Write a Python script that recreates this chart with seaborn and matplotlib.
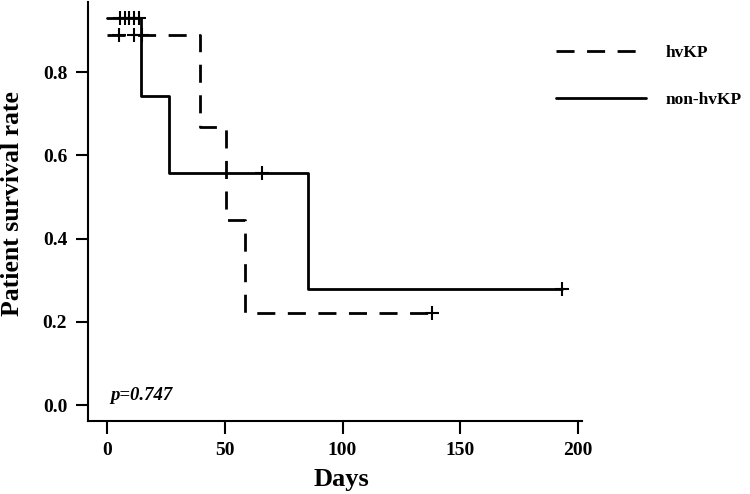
import matplotlib
matplotlib.use("Agg")
import matplotlib.pyplot as plt
import seaborn as sns
import pandas as pd

# Kaplan-Meier step data
hv_times = [0, 39.3, 50.5, 58.5, 138]
hv_surv = [0.889, 0.667, 0.444, 0.222, 0.222]
hv_cens_t = [5, 11.4, 14.8, 138]
hv_cens_s = [0.889, 0.889, 0.889, 0.222]

nhv_times = [0, 14.4, 26.5, 85.3, 193]
nhv_surv = [0.929, 0.743, 0.557, 0.279, 0.279]
nhv_cens_t = [5.5, 7.6, 9.3, 11.4, 13.6, 66, 193]
nhv_cens_s = [0.929, 0.929, 0.929, 0.929, 0.929, 0.557, 0.279]

x_ticks = [0, 50, 100, 150, 200]
y_ticks = [0.0, 0.2, 0.4, 0.6, 0.8]
p_text = "p=0.747"

sns.set_theme(style="ticks")
plt.rcParams['font.family'] = ['Liberation Serif', 'DejaVu Serif']
plt.rcParams['font.weight'] = 'bold'
plt.rcParams['text.color'] = 'black'
plt.rcParams['axes.labelcolor'] = 'black'
plt.rcParams['xtick.color'] = 'black'
plt.rcParams['ytick.color'] = 'black'
plt.rcParams['axes.edgecolor'] = 'black'

fig = plt.figure(figsize=(7.5, 4.94), dpi=100)
ax = fig.add_axes([0.1173, 0.1478, 0.6587, 0.848])

hv_df = pd.DataFrame({"t": hv_times, "s": hv_surv})
nhv_df = pd.DataFrame({"t": nhv_times, "s": nhv_surv})

sns.lineplot(data=hv_df, x="t", y="s", ax=ax, drawstyle="steps-post",
             color="black", lw=2.0, linestyle=(0, (6.5, 4.5)), label="hvKP")
sns.lineplot(data=nhv_df, x="t", y="s", ax=ax, drawstyle="steps-post",
             color="black", lw=2.0, label="non-hvKP")

ax.plot(hv_cens_t, hv_cens_s, ls="none", marker="+", ms=10, mew=1.5, color="black")
ax.plot(nhv_cens_t, nhv_cens_s, ls="none", marker="+", ms=10, mew=1.5, color="black")

ax.set_xlim(-8.1, 201.7)
ax.set_ylim(-0.038, 0.968)
ax.set_xticks(x_ticks)
ax.set_yticks(y_ticks)
ax.set_xticklabels([str(v) for v in x_ticks], fontsize=14, fontweight="bold", color="black")
ax.set_yticklabels([f"{v:.1f}" for v in y_ticks], fontsize=14, fontweight="bold", color="black")
ax.tick_params(axis="both", direction="out", length=9, width=1.5, color="black",
               labelcolor="black", pad=6)
for side in ["top", "right"]:
    ax.spines[side].set_visible(False)
for side in ["left", "bottom"]:
    ax.spines[side].set_linewidth(1.5)
    ax.spines[side].set_color("black")

ax.set_xlabel("Days", fontsize=19, fontweight="bold", color="black")
ax.set_ylabel("Patient survival rate", fontsize=18.5, fontweight="bold", color="black")
ax.xaxis.set_label_coords(0.514, -0.113)
ax.yaxis.set_label_coords(-0.13, 0.52)

ax.text(1.3, 0.024, p_text, fontsize=13.5, fontweight="bold", style="italic",
        ha="left", va="center", color="black")

leg = ax.legend(loc="upper left", bbox_to_anchor=(0.72, 0.94),
                bbox_transform=fig.transFigure, frameon=False,
                prop={"size": 12.5, "weight": "bold"},
                handlelength=5.2, handletextpad=1.15, labelspacing=1.75)
for t in leg.get_texts():
    t.set_color("black")

fig.savefig("out.png", dpi=100)
